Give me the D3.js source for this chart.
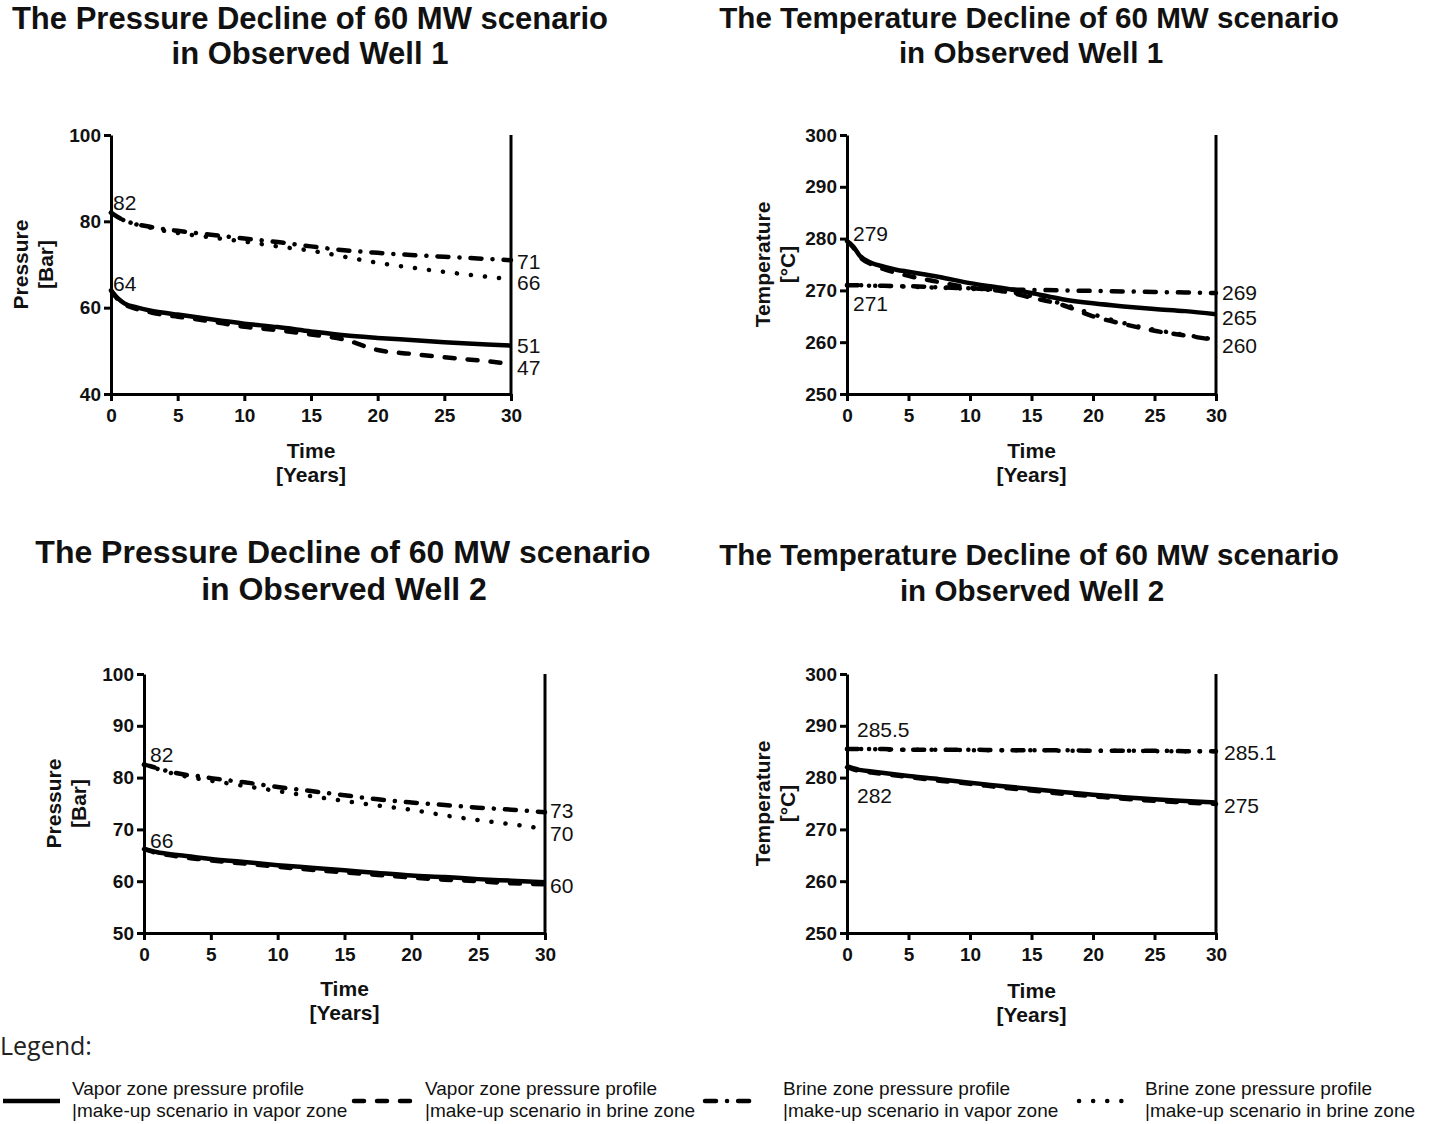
<!DOCTYPE html>
<html><head><meta charset="utf-8">
<script src="https://cdn.jsdelivr.net/npm/d3@7"></script>
<style>body{margin:0;background:#fff}svg{display:block}</style>
</head><body>
<script>
// ---------- DATA ----------
const years = [0,0.5,1,2,3,4,5,7.5,10,12.5,15,17.5,20,22.5,25,27.5,30];
const xTicks = [0,5,10,15,20,25,30];

// Pressure, observed well 1
const p1Solid   = [64,62.2,61,60,59.3,58.8,58.4,57.3,56.3,55.5,54.5,53.6,53,52.5,52,51.6,51.2];
const p1Dashed  = [64,62,60.8,59.6,58.9,58.3,57.9,56.8,55.6,54.8,53.8,52.6,50.2,49.3,48.5,47.8,47];
const p1DashDot = [82,81,80.2,79.3,78.7,78.2,77.8,76.9,76,75.2,74.2,73.3,72.7,72.2,71.8,71.4,71];
const p1Dotted  = [82,81,80.2,79.2,78.5,77.8,77.3,76.3,75.3,74.2,73.2,71.8,70.4,69.3,68.3,67.4,66.6];
const p1Ticks = [40,60,80,100];
const p1Notes = [["82",0,82],["64",0,64],["71",30,71],["66",30,66],["51",30,51],["47",30,47]];

// Temperature, observed well 1
const t1Solid   = [279.5,278.5,276.8,275.3,274.6,274,273.6,272.6,271.4,270.5,269.5,268.3,267.5,266.9,266.4,266,265.4];
const t1Dashed  = [279.5,278.3,276.6,275,274.1,273.4,272.8,271.6,270.5,269.9,268.6,267.2,265,263.5,262.2,261.3,260.4];
const t1DashDot = [271,271,271,270.9,270.9,270.8,270.8,270.6,270.4,270.2,270.1,270,269.9,269.8,269.7,269.6,269.5];
const t1Dotted  = [271,271,271,270.9,270.9,270.8,270.7,270.5,270.3,269.9,268.9,267.4,265.4,263.7,262.4,261.4,260.5];
const t1Ticks = [250,260,270,280,290,300];
const t1Notes = [["279",0,279],["271",0,271],["269",30,269],["265",30,265],["260",30,260]];

// Pressure, observed well 2
const p2Solid   = [66.3,65.9,65.6,65.2,64.9,64.6,64.3,63.7,63.1,62.6,62.1,61.6,61.1,60.8,60.4,60.1,59.8];
const p2Dashed  = [66.2,65.8,65.4,65,64.6,64.3,64,63.4,62.8,62.2,61.7,61.2,60.7,60.3,60,59.6,59.4];
const p2DashDot = [82.5,82.2,81.8,81.1,80.6,80.3,79.9,79.1,78.2,77.4,76.6,75.8,75.2,74.7,74.2,73.8,73.3];
const p2Dotted  = [82.5,82.2,81.7,80.9,80.3,79.8,79.4,78.4,77.4,76.4,75.5,74.6,73.8,72.7,71.8,71,70.1];
const p2Ticks = [50,60,70,80,90,100];
const p2Notes = [["82",0,82],["66",0,66],["73",30,73],["70",30,70],["60",30,60]];

// Temperature, observed well 2
const t2Solid   = [282.2,281.8,281.5,281.2,280.9,280.6,280.3,279.7,279,278.4,277.8,277.2,276.7,276.2,275.8,275.5,275.2];
const t2Dashed  = [282,281.6,281.3,281,280.7,280.4,280.1,279.4,278.8,278.1,277.5,276.9,276.4,275.9,275.5,275.2,274.9];
const t2DashDot = [285.5,285.5,285.5,285.5,285.5,285.4,285.4,285.4,285.4,285.3,285.3,285.3,285.2,285.2,285.2,285.1,285.1];
const t2Dotted  = [285.5,285.5,285.5,285.5,285.4,285.4,285.4,285.4,285.3,285.3,285.3,285.2,285.2,285.2,285.1,285.1,285.1];
const t2Ticks = [250,260,270,280,290,300];
const t2Notes = [["285.5",0,285.5],["282",0,282],["285.1",30,285.1],["275",30,275]];

const legendLabels = [
  ["Vapor zone pressure profile","|make-up scenario in vapor zone"],
  ["Vapor zone pressure profile","|make-up scenario in brine zone"],
  ["Brine zone pressure profile","|make-up scenario in vapor zone"],
  ["Brine zone pressure profile","|make-up scenario in brine zone"]
];

// ---------- LAYOUT / STYLE ----------
const FONT = "'Liberation Sans', Arial, Helvetica, sans-serif";
const styles = [
  {dash:null, cap:"butt", w:4.5},
  {dash:"10 13", cap:"round", w:4.5},
  {dash:"11 11 0.1 11", cap:"round", w:4.5},
  {dash:"0.1 14", cap:"round", w:4.5}
];

const panels = [
  {title:["The Pressure Decline of 60 MW scenario","in Observed Well 1"], tx:[310,310], ty:[28.5,63.5], tfs:31,
   x0:111, x1:511, yT:135, yB:394, dom:[40,100], ticks:p1Ticks,
   ylab:["Pressure","[Bar]"], ylx:[20,45], xlabY:[450,474],
   series:[p1Solid,p1Dashed,p1DashDot,p1Dotted], notes:p1Notes,
   off:[[2,-10],[2,-7],[6,1],[6,1],[6,-1],[6,4]]},
  {title:["The Temperature Decline of 60 MW scenario","in Observed Well 1"], tx:[1029,1031], ty:[28,62.5], tfs:29.6,
   x0:847, x1:1216, yT:135, yB:394, dom:[250,300], ticks:t1Ticks,
   ylab:["Temperature","[°C]"], ylx:[762,787], xlabY:[450,474],
   series:[t1Solid,t1Dashed,t1DashDot,t1Dotted], notes:t1Notes,
   off:[[6,-10],[6,18],[6,-3],[6,1],[6,3]]},
  {title:["The Pressure Decline of 60 MW scenario","in Observed Well 2"], tx:[343,344], ty:[563,600], tfs:32,
   x0:144, x1:545, yT:674, yB:933, dom:[50,100], ticks:p2Ticks,
   ylab:["Pressure","[Bar]"], ylx:[53,78], xlabY:[988,1012],
   series:[p2Solid,p2Dashed,p2DashDot,p2Dotted], notes:p2Notes,
   off:[[6,-13],[6,-10],[5,-3],[5,4],[5,4]]},
  {title:["The Temperature Decline of 60 MW scenario","in Observed Well 2"], tx:[1029,1032], ty:[565,601], tfs:29.6,
   x0:847, x1:1216, yT:674, yB:933, dom:[250,300], ticks:t2Ticks,
   ylab:["Temperature","[°C]"], ylx:[762,787], xlabY:[990,1014],
   series:[t2Solid,t2Dashed,t2DashDot,t2Dotted], notes:t2Notes,
   off:[[10,-20],[10,28],[8,1],[8,2]]}
];

const W=1429, H=1124;
const svg = d3.select("body").append("svg").attr("width",W).attr("height",H)
  .style("font-family",FONT);

panels.forEach(p => {
  const g = svg.append("g");
  const x = d3.scaleLinear().domain([0,30]).range([p.x0,p.x1]);
  const y = d3.scaleLinear().domain(p.dom).range([p.yB,p.yT]);

  // title
  p.title.forEach((t,i) => g.append("text").attr("x",p.tx[i]).attr("y",p.ty[i])
    .attr("text-anchor","middle")
    .attr("font-size",p.tfs).attr("font-weight","bold").attr("fill","#111").text(t));

  // series
  p.series.forEach((vals,k) => {
    const st = styles[k];
    const line = d3.line().x((d,i)=>x(years[i])).y(d=>y(d)).curve(d3.curveMonotoneX);
    g.append("path").datum(vals).attr("d",line).attr("fill","none")
      .attr("stroke","#000").attr("stroke-width",st.w)
      .attr("stroke-linecap",st.cap).attr("stroke-linejoin","round")
      .attr("stroke-dasharray",st.dash);
  });

  // axes
  const ax = g.append("g").attr("transform",`translate(${p.x0},0)`)
    .call(d3.axisLeft(y).tickValues(p.ticks).tickSize(7).tickSizeOuter(0).tickPadding(3));
  const bx = g.append("g").attr("transform",`translate(0,${p.yB})`)
    .call(d3.axisBottom(x).tickValues(xTicks).tickSize(7).tickSizeOuter(0).tickPadding(8));
  [ax,bx].forEach(a => {
    a.selectAll("path,line").attr("stroke","#000").attr("stroke-width",3);
    a.selectAll("text").attr("font-size",19).attr("font-weight","bold")
      .attr("fill","#111").style("font-family",FONT);
  });
  g.append("line").attr("x1",p.x1).attr("x2",p.x1).attr("y1",p.yT).attr("y2",p.yB+1.5)
    .attr("stroke","#000").attr("stroke-width",3);

  // axis titles
  const yc = (p.yT+p.yB)/2;
  p.ylab.forEach((t,i) => g.append("text")
    .attr("transform",`translate(${p.ylx[i]},${yc}) rotate(-90)`)
    .attr("text-anchor","middle").attr("dominant-baseline","central")
    .attr("font-size",21).attr("font-weight","bold").attr("fill","#111").text(t));
  const xc = (p.x0+p.x1)/2;
  ["Time","[Years]"].forEach((t,i) => g.append("text").attr("x",xc).attr("y",p.xlabY[i])
    .attr("text-anchor","middle").attr("dominant-baseline","central")
    .attr("font-size",21).attr("font-weight","bold").attr("fill","#111").text(t));

  // value notes
  p.notes.forEach((n,i) => g.append("text")
    .attr("x",x(n[1])+p.off[i][0]).attr("y",y(n[2])+p.off[i][1])
    .attr("dominant-baseline","central").attr("font-size",21).attr("fill","#111").text(n[0]));
});

// legend
svg.append("text").attr("x",0).attr("y",1045).attr("dominant-baseline","central")
  .attr("font-size",25).attr("fill","#222").style("font-family","'Open Sans', sans-serif").text("Legend:");
const legX = [[3,60,72],[352,415,425],[703,760,783],[1077,1135,1145]];
legendLabels.forEach((lab,k) => {
  const st = styles[k];
  const [a,b,tx] = legX[k];
  svg.append("line").attr("x1",a+(st.cap==="round"?2:0)).attr("x2",b).attr("y1",1101).attr("y2",1101)
    .attr("stroke","#000").attr("stroke-width",st.w).attr("stroke-linecap",st.cap)
    .attr("stroke-dasharray",st.dash);
  lab.forEach((t,i) => svg.append("text").attr("x",tx).attr("y",1088+i*22)
    .attr("dominant-baseline","central").attr("font-size",19).attr("fill","#111").text(t));
});
</script>
</body></html>
